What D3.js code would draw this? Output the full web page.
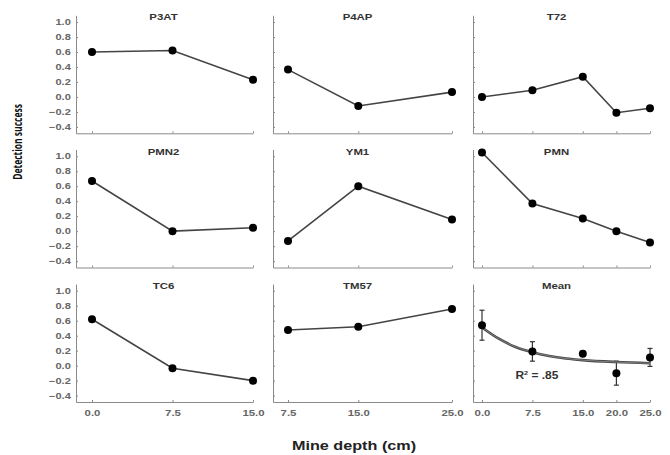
<!DOCTYPE html>
<html>
<head>
<meta charset="utf-8">
<script src="https://cdn.jsdelivr.net/npm/d3@7"></script>
<style>
  body { margin: 0; background: #fff; }
  svg { display: block; }
  .axis path, .axis line { stroke: #8a8a8a; }
  .axis text { fill: #666; font-family: "Liberation Sans", Arial, sans-serif; font-weight: bold; }
</style>
</head>
<body>
<div id="chart"></div>
<script>
// panel names, row by row
const titles = ["P3AT", "P4AP", "T72", "PMN2", "YM1", "PMN", "TC6", "TM57", "Mean"];
// mine depths (cm) used in each column
const depthCols = [[0, 7.5, 15], [7.5, 15, 25], [0, 7.5, 15, 20, 25]];
const xTickLabels = [["0.0", "7.5", "15.0"], ["7.5", "15.0", "25.0"], ["0.0", "7.5", "15.0", "20.0", "25.0"]];
const yTicks = [-0.4, -0.2, 0.0, 0.2, 0.4, 0.6, 0.8, 1.0];

// detection success per mine type
const p3at = [0.60, 0.62, 0.23];
const p4ap = [0.365, -0.12, 0.065];
const t72 = [0.0, 0.09, 0.27, -0.21, -0.15];
const pmn2 = [0.67, 0.0, 0.045];
const ym1 = [-0.13, 0.60, 0.155];
const pmn = [1.05, 0.37, 0.17, 0.0, -0.15];
const tc6 = [0.62, -0.035, -0.20];
const tm57 = [0.476, 0.52, 0.756];
const mean = [0.54, 0.19, 0.16, -0.10, 0.11];
const meanErr = [0.20, 0.13, 0.03, 0.16, 0.12];
// fitted curve
const fitDepth = [0, 2.5, 5, 7.5, 10, 12.5, 15, 20, 25];
const fitValue = [0.51, 0.36, 0.25, 0.18, 0.13, 0.096, 0.074, 0.048, 0.032];

const series = [p3at, p4ap, t72, pmn2, ym1, pmn, tc6, tm57, mean];

const width = 670, height = 455;
const colX0 = [76, 273, 473];      // y axis position per column
const colX1 = [253, 452, 650];     // last tick per column
const colPad = [16, 15, 9];        // gap from y axis to first depth
const rowBase = [133.3, 267.5, 402]; // x axis position per row
const plotH = 118;

const svg = d3.select('#chart').append('svg')
    .attr('width', width)
    .attr('height', height);

const line = d3.line().x(d => d[0]).y(d => d[1]);

series.forEach((vals, i) => {
    const col = i % 3, row = Math.floor(i / 3);
    const depths = depthCols[col];
    const x0 = colX0[col], x1 = colX1[col], yb = rowBase[row];
    const first = depths[0], last = depths[depths.length - 1];
    const pxPerUnit = (x1 - x0 - colPad[col]) / (last - first);
    const xScale = d3.scaleLinear()
        .domain([first - colPad[col] / pxPerUnit, last])
        .range([x0, x1]);
    const yScale = d3.scaleLinear().domain([-0.485, 1.09]).range([yb, yb - plotH]);

    const g = svg.append('g').attr('class', 'panel');

    // axes
    const yAxis = d3.axisLeft(yScale).tickValues(yTicks).tickSize(-2).tickSizeOuter(0).tickPadding(4)
        .tickFormat(col === 0 ? d3.format('.1f') : '');
    g.append('g').attr('class', 'axis').attr('transform', `translate(${x0},0)`).call(yAxis)
        .selectAll('text').style('font-size', '8.5px').attr('transform', 'scale(1.3,1)');

    const xAxis = d3.axisBottom(xScale).tickValues(depths).tickSize(-2).tickSizeOuter(0).tickPadding(7)
        .tickFormat((d, k) => row === 2 ? xTickLabels[col][k] : '');
    g.append('g').attr('class', 'axis').attr('transform', `translate(0,${yb})`).call(xAxis)
        .selectAll('text').style('font-size', '9.5px').attr('transform', 'scale(1.2,1)');

    // title
    const tx = (x0 + x1) / 2 - (col === 0 ? 1 : 5);
    g.append('text')
        .attr('transform', `translate(${tx},${yb - plotH + 5}) scale(1.2,1)`)
        .attr('text-anchor', 'middle')
        .style('font-family', '"Liberation Sans", Arial, sans-serif')
        .style('font-weight', 'bold')
        .style('font-size', '9.5px')
        .style('fill', '#333')
        .text(titles[i]);

    const pts = depths.map((d, k) => [xScale(d), yScale(vals[k])]);

    if (titles[i] === 'Mean') {
        // error bars
        depths.forEach((d, k) => {
            const cx = xScale(d);
            const top = yScale(vals[k] + meanErr[k]), bot = yScale(vals[k] - meanErr[k]);
            g.append('line').attr('x1', cx).attr('x2', cx).attr('y1', top).attr('y2', bot)
                .style('stroke', '#333').style('stroke-width', 1.2);
            [top, bot].forEach(yy => g.append('line')
                .attr('x1', cx - 2.5).attr('x2', cx + 2.5).attr('y1', yy).attr('y2', yy)
                .style('stroke', '#333').style('stroke-width', 1.2));
        });
        // fitted curve
        const curve = d3.line().x(d => xScale(d[0])).y(d => yScale(d[1])).curve(d3.curveMonotoneX);
        g.append('path')
            .datum(fitDepth.map((d, k) => [d, fitValue[k]]))
            .attr('d', curve)
            .style('fill', 'none').style('stroke', '#444').style('stroke-width', 2.6);
        g.append('path')
            .datum(fitDepth.map((d, k) => [d, fitValue[k]]))
            .attr('d', curve)
            .style('fill', 'none').style('stroke', '#aaa').style('stroke-width', 0.6);
        g.append('text')
            .attr('transform', `translate(${xScale(7.5) - 17},${yScale(-0.12) + 4}) scale(1.2,1)`)
            .style('font-family', '"Liberation Sans", Arial, sans-serif')
            .style('font-weight', 'bold').style('font-size', '10px').style('fill', '#333')
            .html('R<tspan dy="-4" font-size="6px">2</tspan><tspan dy="4"> = .85</tspan>');
    } else {
        g.append('path').datum(pts).attr('d', line)
            .style('fill', 'none').style('stroke', '#444').style('stroke-width', 1.6);
    }

    g.selectAll('circle.pt').data(pts).enter().append('circle')
        .attr('class', 'pt')
        .attr('cx', d => d[0]).attr('cy', d => d[1]).attr('r', 4)
        .style('fill', '#000');
});

// axis titles
svg.append('text')
    .attr('transform', 'translate(22,142) scale(1.45,1) rotate(-90)')
    .attr('text-anchor', 'middle')
    .style('font-family', '"Open Sans", "Noto Sans", sans-serif')
    .style('font-weight', 'bold')
    .style('font-size', '8.5px')
    .style('fill', '#111')
    .text('Detection success');

svg.append('text')
    .attr('transform', 'translate(354,450) scale(1.2,1)')
    .attr('text-anchor', 'middle')
    .style('font-family', '"Liberation Sans", Arial, sans-serif')
    .style('font-weight', 'bold')
    .style('font-size', '13.5px')
    .style('fill', '#222')
    .text('Mine depth (cm)');
</script>
</body>
</html>
